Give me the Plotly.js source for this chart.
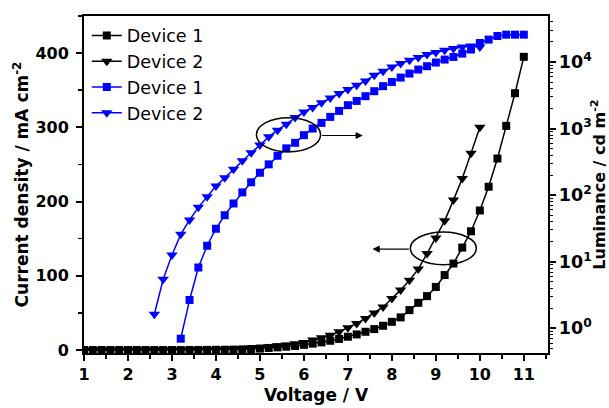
<!DOCTYPE html>
<html>
<head>
<meta charset="utf-8">
<script src="https://cdn.plot.ly/plotly-3.0.1.min.js"></script>
<style>html,body{margin:0;padding:0;background:#fff;}#chart{width:609px;height:408px;}</style>
</head>
<body>
<div id="chart"></div>
<script>
// Voltage (V)
const voltageJ1 = [1.0,1.2,1.4,1.6,1.8,2.0,2.2,2.4,2.6,2.8,3.0,3.2,3.4,3.6,3.8,4.0,4.2,4.4,4.6,4.8,5.0,5.2,5.4,5.6,5.8,6.0,6.2,6.4,6.6,6.8,7.0,7.2,7.4,7.6,7.8,8.0,8.2,8.4,8.6,8.8,9.0,9.2,9.4,9.6,9.8,10.0,10.2,10.4,10.6,10.8,11.0];
const voltageJ2 = [1.0,1.2,1.4,1.6,1.8,2.0,2.2,2.4,2.6,2.8,3.0,3.2,3.4,3.6,3.8,4.0,4.2,4.4,4.6,4.8,5.0,5.2,5.4,5.6,5.8,6.0,6.2,6.4,6.6,6.8,7.0,7.2,7.4,7.6,7.8,8.0,8.2,8.4,8.6,8.8,9.0,9.2,9.4,9.6,9.8,10.0];
const voltageL1 = [3.2,3.4,3.6,3.8,4.0,4.2,4.4,4.6,4.8,5.0,5.2,5.4,5.6,5.8,6.0,6.2,6.4,6.6,6.8,7.0,7.2,7.4,7.6,7.8,8.0,8.2,8.4,8.6,8.8,9.0,9.2,9.4,9.6,9.8,10.0,10.2,10.4,10.6,10.8,11.0];
const voltageL2 = [2.6,2.8,3.0,3.2,3.4,3.6,3.8,4.0,4.2,4.4,4.6,4.8,5.0,5.2,5.4,5.6,5.8,6.0,6.2,6.4,6.6,6.8,7.0,7.2,7.4,7.6,7.8,8.0,8.2,8.4,8.6,8.8,9.0,9.2,9.4,9.6,9.8,10.0];

// Current density (mA cm^-2)
const currentDevice1 = [0,0,0,0,0,0,0,0,0,0,0,0,0.1,0.1,0.2,0.3,0.4,0.6,0.9,1.4,2.0,2.8,3.6,4.5,5.5,7.0,8.6,10.3,12.5,15.0,17.9,21,24.6,28.2,32.7,38,44,53.8,63.6,72.6,85,101,116.5,138,160,188,220,258,302,346,395];
const currentDevice2 = [0,0,0,0,0,0,0,0,0,0,0.1,0.1,0.2,0.3,0.4,0.6,0.9,1.3,1.8,2.6,3.5,4.5,5.6,6.8,8.5,10.3,13.4,16.5,20,24.6,30,35.9,42.6,50,58,69.5,81,94,109,130,151,174,202,231,265,300];

// Luminance (cd m^-2)
const luminanceDevice1 = [0.70,2.67,8.2,17.4,31.3,50,75,110,156,217,290,390,504,611,796,1000,1216,1496,1841,2244,2600,3060,3640,4330,5010,5830,6700,7690,8630,9800,10860,11890,13360,15350,19280,21680,24550,25700,25700,25700];
const luminanceDevice2 = [1.63,5.47,12.6,25.8,42.4,65.6,94.6,137,182,244,328,432,564,751,946,1164,1466,1780,2070,2430,2885,3360,3855,4475,5190,6310,7260,8410,9460,10600,11650,12900,13830,14970,15900,16790,17380,16790];

const seriesNames = ['Device 1','Device 2','Device 1','Device 2'];

const FONT = 'DejaVu Sans';

const traces = [
  {x: voltageJ1, y: currentDevice1, name: seriesNames[0], type:'scatter', mode:'lines+markers', yaxis:'y',
   line:{color:'#000000', width:1.5}, marker:{symbol:'square', size:8, color:'#000000'}},
  {x: voltageJ2, y: currentDevice2, name: seriesNames[1], type:'scatter', mode:'lines+markers', yaxis:'y',
   line:{color:'#000000', width:1.5}, marker:{symbol:'triangle-down', size:10, color:'#000000'}},
  {x: voltageL1, y: luminanceDevice1, name: seriesNames[2], type:'scatter', mode:'lines+markers', yaxis:'y2',
   line:{color:'#0000ff', width:1.5}, marker:{symbol:'square', size:8, color:'#0000ff'}},
  {x: voltageL2, y: luminanceDevice2, name: seriesNames[3], type:'scatter', mode:'lines+markers', yaxis:'y2',
   line:{color:'#0000ff', width:1.5}, marker:{symbol:'triangle-down', size:10, color:'#0000ff'}}
];

const tickFont = {family: FONT, size: 16, color:'#000', weight:'bold'};
const titleFont = {family: FONT, size: 17, color:'#000', weight:'bold'};

const layout = {
  width: 609, height: 408,
  margin: {l:84, r:61, t:16, b:55, pad:0},
  paper_bgcolor:'#fff', plot_bgcolor:'#fff',
  showlegend: true,
  legend: {x:0.006, y:0.995, xanchor:'left', yanchor:'top', bgcolor:'rgba(0,0,0,0)',
           font:{family: FONT, size:17.5, color:'#000'}, tracegroupgap:0, itemwidth:30},
  xaxis: {range:[1, 11.55], tick0:1, dtick:1, ticks:'outside', ticklen:6, tickwidth:2, tickcolor:'#000',
          showline:true, linewidth:2, linecolor:'#000', mirror:true, showgrid:false, zeroline:false,
          tickfont: tickFont, minor:{ticks:'outside', dtick:0.5, ticklen:4, tickwidth:1.5, tickcolor:'#000', showgrid:false},
          title:{text:'Voltage / V', font:titleFont, standoff:6}},
  yaxis: {range:[-4, 450], tick0:0, dtick:100, ticks:'outside', ticklen:6, tickwidth:2, tickcolor:'#000',
          showline:true, linewidth:2, linecolor:'#000', showgrid:false, zeroline:false,
          tickfont: tickFont, ticklabelstandoff:4,
          minor:{ticks:'outside', dtick:50, ticklen:4, tickwidth:1.5, tickcolor:'#000', showgrid:false},
          title:{text:'Current density / mA cm<sup>-2</sup>', font:titleFont, standoff:2}},
  yaxis2: {type:'log', range:[-0.37, 4.69], overlaying:'y', side:'right', dtick:1, exponentformat:'power',
           labelalias:{'1':'10<sup>0</sup>','10':'10<sup>1</sup>'},
           ticks:'outside', ticklen:6, tickwidth:2, tickcolor:'#000',
           showline:true, linewidth:2, linecolor:'#000', showgrid:false, zeroline:false,
           tickfont:{family: FONT, size:14, color:'#000', weight:'bold'},
           minor:{ticks:'outside', dtick:'D1', ticklen:3, tickwidth:1, tickcolor:'#000', showgrid:false},
           title:{text:'Luminance / cd m<sup>-2</sup>', font:{family: FONT, size:16, color:'#000', weight:'bold'}, standoff:8}},
  shapes: [
    {type:'circle', xref:'x', yref:'y', x0:4.92, x1:6.38, y0:267, y1:313, line:{color:'#000', width:1.5}},
    {type:'circle', xref:'x', yref:'y', x0:8.42, x1:9.92, y0:115, y1:159, line:{color:'#000', width:1.5}}
  ],
  annotations: [
    {xref:'x', yref:'y', axref:'x', ayref:'y', x:7.34, y:289, ax:6.38, ay:289, text:'', showarrow:true,
     arrowhead:2, arrowsize:1.2, arrowwidth:1.2, arrowcolor:'#000', standoff:0, startstandoff:0},
    {xref:'x', yref:'y', axref:'x', ayref:'y', x:7.56, y:136, ax:8.42, ay:136, text:'', showarrow:true,
     arrowhead:2, arrowsize:1.2, arrowwidth:1.2, arrowcolor:'#000', standoff:0, startstandoff:0}
  ]
};

Plotly.newPlot('chart', traces, layout, {displayModeBar:false, staticPlot:true});
</script>
</body>
</html>
